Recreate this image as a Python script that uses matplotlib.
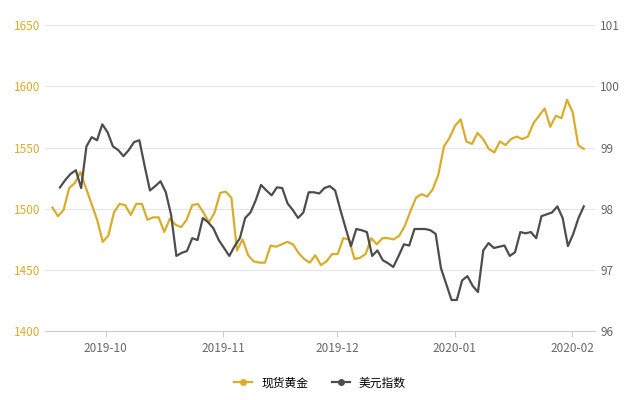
import matplotlib.pyplot as plt
import matplotlib.dates as mdates
from matplotlib.lines import Line2D
import pandas as pd

plt.rcParams["font.family"] = ["Noto Sans CJK SC", "DejaVu Sans"]

GOLD = [1501, 1494, 1499, 1517, 1521, 1530, 1517, 1504, 1491, 1473, 1478, 1497,
        1504, 1503, 1495, 1504, 1504, 1491, 1493, 1493, 1481, 1492, 1487, 1485,
        1491, 1503, 1504, 1497, 1489, 1497, 1513, 1514, 1509, 1466, 1475, 1462,
        1457, 1456, 1456, 1470, 1469, 1471, 1473, 1471, 1464, 1459, 1456, 1462,
        1454, 1457, 1463, 1463, 1476, 1475, 1459, 1460, 1463, 1476, 1471, 1476,
        1476, 1475, 1478, 1486, 1498, 1509, 1512, 1510, 1516, 1528, 1551, 1558,
        1568, 1573, 1555, 1553, 1562, 1557, 1549, 1546, 1555, 1552, 1557, 1559,
        1557, 1559, 1570, 1576, 1582, 1567, 1576, 1574, 1589, 1579, 1552, 1549]
USD = [98.35, 98.47, 98.57, 98.63, 98.34, 99.02, 99.17, 99.12, 99.38, 99.25,
       99.02, 98.96, 98.86, 98.96, 99.09, 99.12, 98.70, 98.30, 98.37, 98.45,
       98.27, 97.90, 97.23, 97.28, 97.31, 97.52, 97.49, 97.85, 97.78, 97.68,
       97.49, 97.36, 97.23, 97.39, 97.52, 97.85, 97.94, 98.14, 98.39, 98.30,
       98.22, 98.35, 98.34, 98.09, 97.98, 97.85, 97.94, 98.27, 98.27, 98.25,
       98.34, 98.37, 98.30, 97.98, 97.68, 97.39, 97.67, 97.65, 97.62, 97.23,
       97.32, 97.16, 97.11, 97.05, 97.23, 97.42, 97.40, 97.67, 97.67, 97.67,
       97.65, 97.59, 97.03, 96.77, 96.51, 96.51, 96.83, 96.90, 96.74, 96.64,
       97.32, 97.44, 97.36, 97.38, 97.40, 97.23, 97.29, 97.62, 97.60, 97.62,
       97.52, 97.88, 97.91, 97.94, 98.04, 97.85, 97.39, 97.59, 97.85, 98.04]

gold_dates = pd.date_range("2019-09-17", "2020-02-04", periods=len(GOLD))
usd_dates = pd.date_range("2019-09-19", "2020-02-04", periods=len(USD))

GOLD_C = "#d9ad2b"
USD_C = "#4d4d4d"

fig, ax = plt.subplots(figsize=(6.4, 4.0), dpi=100)
ax2 = ax.twinx()
ax.plot(gold_dates, GOLD, color=GOLD_C, lw=1.6)
ax2.plot(usd_dates, USD, color=USD_C, lw=1.6)

ax.set_ylim(1400, 1650)
ax.set_yticks(range(1400, 1651, 50))
ax2.set_ylim(96, 101)
ax2.set_yticks(range(96, 102))
ax.set_xlim(pd.Timestamp("2019-09-15"), pd.Timestamp("2020-02-07"))
ax.xaxis.set_major_locator(mdates.MonthLocator())
ax.xaxis.set_major_formatter(mdates.DateFormatter("%Y-%m"))

ax.grid(axis="y", color="#e6e6e6", lw=0.8)
for a in (ax, ax2):
    for s in a.spines.values():
        s.set_visible(False)
    a.tick_params(length=0, labelsize=8.5)
ax.spines["bottom"].set_visible(True)
ax.spines["bottom"].set_color("#cccccc")
ax.tick_params(axis="x", colors="#666666", length=4, color="#cccccc")
ax.tick_params(axis="y", colors=GOLD_C)
ax2.tick_params(axis="y", colors="#666666")

handles = [Line2D([], [], color=GOLD_C, lw=1.6, marker="o", markersize=4),
           Line2D([], [], color=USD_C, lw=1.6, marker="o", markersize=4)]
fig.legend(handles, ["现货黄金", "美元指数"], loc="lower center", ncol=2, frameon=False,
           fontsize=8.5, handlelength=1.5, bbox_to_anchor=(0.5, 0.0))

fig.subplots_adjust(left=0.07, right=0.93, top=0.937, bottom=0.172)
fig.savefig("out.png", dpi=100)
